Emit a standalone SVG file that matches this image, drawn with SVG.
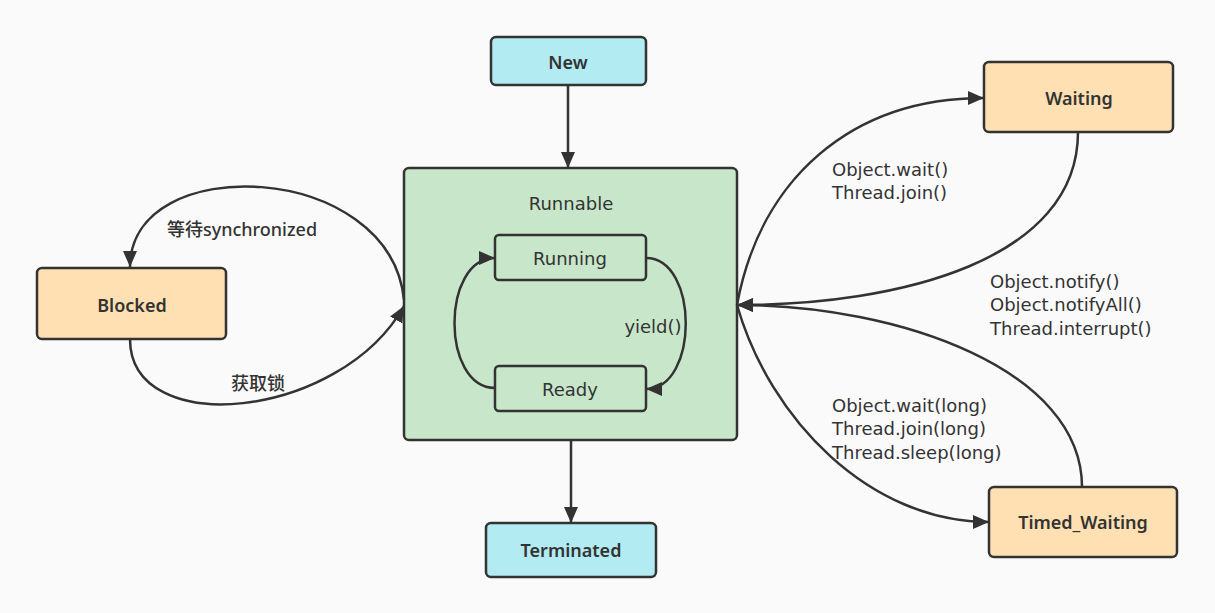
<svg xmlns="http://www.w3.org/2000/svg" width="1215" height="613" viewBox="0 0 1215 613">
<style>
.node{stroke:#333;stroke-width:2.5}
.cyan{fill:#b2ebf2}
.orange{fill:#ffe0b2}
.green{fill:#c8e6c9}
.lbl{fill:#333;text-anchor:middle;dominant-baseline:central}
.b{font-family:"Noto Sans","Noto Sans CJK SC",sans-serif;font-weight:600;font-size:18px}
.m{font-family:"Noto Sans","Noto Sans CJK SC",sans-serif;font-weight:500;font-size:18px}
.n{font-family:"DejaVu Sans","Noto Sans CJK SC",sans-serif;font-size:18px}
.e{font-family:"DejaVu Sans","Noto Sans CJK SC",sans-serif;fill:#333;font-size:18px}
.c{fill:none;stroke:#333;stroke-width:2.5}
</style>
<defs>
<marker id="ah" markerUnits="userSpaceOnUse" markerWidth="18" markerHeight="16" refX="16" refY="7" orient="auto" viewBox="0 0 18 14">
<path d="M0,0 L16,7 L0,14 Z" fill="#333"/>
</marker>
</defs>
<rect width="1215" height="613" fill="#fafafa"/>
<g id="runnable">
<rect class="node green" x="404" y="168" width="333" height="272" rx="5"/>
<text class="lbl n" x="571" y="203">Runnable</text>
</g>
<g id="running">
<rect class="node green" x="495" y="235" width="151" height="45" rx="4"/>
<text class="lbl n" x="570" y="258">Running</text>
</g>
<g id="ready">
<rect class="node green" x="495" y="366" width="151" height="45" rx="4"/>
<text class="lbl n" x="570" y="389">Ready</text>
</g>
<g id="new">
<rect class="node cyan" x="491" y="37" width="155" height="48" rx="5"/>
<text class="lbl b" x="568" y="62">New</text>
</g>
<g id="terminated">
<rect class="node cyan" x="486" y="523" width="170" height="54" rx="5"/>
<text class="lbl b" x="571" y="550">Terminated</text>
</g>
<g id="blocked">
<rect class="node orange" x="37" y="268" width="189" height="71" rx="5"/>
<text class="lbl b" x="132" y="305">Blocked</text>
</g>
<g id="waiting">
<rect class="node orange" x="984" y="62" width="189" height="70" rx="5"/>
<text class="lbl b" x="1079" y="98">Waiting</text>
</g>
<g id="timed_waiting">
<rect class="node orange" x="989" y="487" width="188" height="70" rx="5"/>
<text class="lbl b" x="1083" y="522">Timed_Waiting</text>
</g>
<g id="connectors">
<path class="c" d="M568,85 L568,168" marker-end="url(#ah)"/>
<path class="c" d="M571,440 L571,523" marker-end="url(#ah)"/>
<path class="c" d="M495,388 C441,388 441,258 495,258" marker-end="url(#ah)"/>
<path class="c" d="M646,258 C699,258 699,389 646,389" marker-end="url(#ah)"/>
<path class="c" d="M404,300 C390,160 130,150 130,267" marker-end="url(#ah)"/>
<path class="c" d="M130,339 C130,440 340,420 404,306" marker-end="url(#ah)"/>
<path class="c" d="M737,305 C760,180 850,98 984,98" marker-end="url(#ah)"/>
<path class="c" d="M1078,132 C1078,260 900,305 737,305" marker-end="url(#ah)"/>
<path class="c" d="M1082,487 C1082,370 900,305 737,305" marker-end="url(#ah)"/>
<path class="c" d="M737,305 C770,420 870,522 989,522" marker-end="url(#ah)"/>
<text class="lbl n" x="653" y="326">yield()</text>
<text class="lbl m" x="242" y="229">等待synchronized</text>
<text class="lbl m" x="258" y="383">获取锁</text>
<text class="e" x="832" y="176">Object.wait()</text>
<text class="e" x="832" y="199">Thread.join()</text>
<text class="e" x="990" y="288">Object.notify()</text>
<text class="e" x="990" y="311">Object.notifyAll()</text>
<text class="e" x="990" y="335">Thread.interrupt()</text>
<text class="e" x="832" y="412">Object.wait(long)</text>
<text class="e" x="832" y="435">Thread.join(long)</text>
<text class="e" x="832" y="459">Thread.sleep(long)</text>
</g>
</svg>
